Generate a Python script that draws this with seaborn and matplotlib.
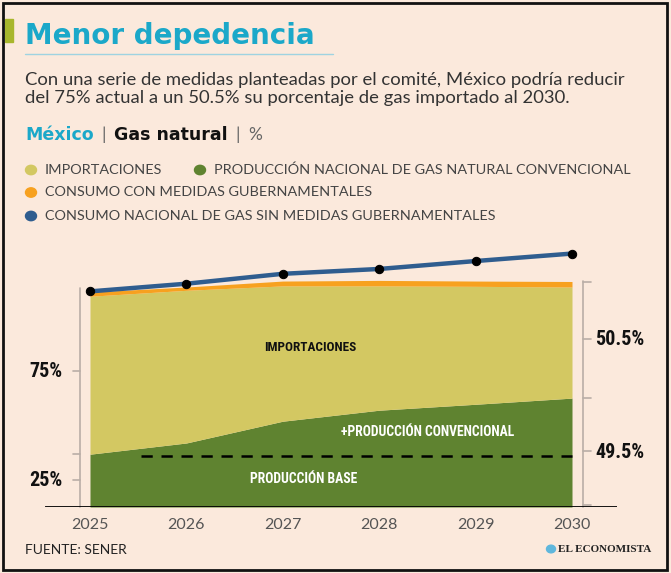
import seaborn as sns
import matplotlib.pyplot as plt
import pandas as pd
from matplotlib import font_manager
from matplotlib.patches import Rectangle, Circle
from matplotlib.lines import Line2D

# data (relative units, 2030 total demand with measures ~ 100)
years = [2025, 2026, 2027, 2028, 2029, 2030]
prod_convencional = [24.0, 29.1, 39.0, 44.0, 46.7, 49.5]
importaciones = [71.8, 69.4, 61.5, 56.5, 53.6, 50.5]
consumo_con_medidas = [97.7, 100.0, 102.7, 103.0, 102.7, 102.5]
consumo_sin_medidas = [98.0, 101.5, 106.0, 108.2, 111.8, 115.2]
prod_base = 23.0

left_ticks = [61.8, 24.1, 12.3]
left_labels = {'75%': 61.8, '25%': 12.0}
right_ticks = [102.4, 76.4, 49.7, 25.6, 1.0]
right_labels = {'50.5%': 76.2, '49.5%': 24.6}

legend_items = ['IMPORTACIONES', 'PRODUCCIÓN NACIONAL DE GAS NATURAL CONVENCIONAL',
                'CONSUMO CON MEDIDAS GUBERNAMENTALES',
                'CONSUMO NACIONAL DE GAS SIN MEDIDAS GUBERNAMENTALES']

BG = '#fbe9dc'
YELLOW = '#d3c862'
GREEN = '#5f8330'
ORANGE = '#f7a11f'
BLUE = '#2f5d8f'
CYAN = '#1ba8c9'

installed = {f.name for f in font_manager.fontManager.ttflist}
def pick(*names):
    for n in names:
        if n in installed:
            return n
    return 'DejaVu Sans'

NARROW = pick('Liberation Sans Narrow', 'Roboto Condensed', 'Open Sans Condensed', 'Liberation Sans')
BODY = pick('Lato', 'Open Sans', 'DejaVu Sans')
SERIF = pick('Liberation Serif', 'DejaVu Serif')

sns.set_style('white')
plt.rcParams['font.family'] = [BODY, 'DejaVu Sans']

W, H = 671, 573
fig = plt.figure(figsize=(W / 100, H / 100), dpi=100)
fig.patch.set_facecolor(BG)

def px(x, y):
    return x / W, 1 - y / H

# chart area
ax = fig.add_axes([45 / W, (H - 507) / H, 572 / W, 262 / H])
ax.set_facecolor(BG)
ax.set_xlim(2025 - 45 / 96.4, 2025 + 527 / 96.4)
ax.set_ylim(0, 262 / 2.2)

yellow_top = [g + i for g, i in zip(prod_convencional, importaciones)]
ax.stackplot(years, prod_convencional, importaciones, colors=[GREEN, YELLOW], linewidth=0)
ax.fill_between(years, yellow_top, consumo_con_medidas, color=ORANGE, linewidth=0)

df = pd.DataFrame({'year': years, 'consumo': consumo_sin_medidas})
sns.lineplot(data=df, x='year', y='consumo', ax=ax, color=BLUE, linewidth=3.2,
             marker='o', markersize=6, markerfacecolor='black', markeredgecolor='black')

ax.plot([2025.53, 2030], [prod_base, prod_base], color='black', linewidth=1.8,
        dashes=(4.5, 3.5))

# side rulers
GRAY = '#b9aea6'
ax.plot([2024.9, 2024.9], [0, 99.5], color=GRAY, lw=1.2, clip_on=False)
for t in left_ticks:
    ax.plot([2024.82, 2024.9], [t, t], color=GRAY, lw=1.2, clip_on=False)
ax.plot([2030.11, 2030.11], [0, 102.7], color=GRAY, lw=1.2, clip_on=False)
for t in right_ticks:
    ax.plot([2030.11, 2030.2], [t, t], color=GRAY, lw=1.2, clip_on=False)

for lab, y in left_labels.items():
    ax.text(2024.71, y, lab, ha='right', va='center', fontsize=14.5, fontweight='bold',
            family=NARROW, color='#111111')
for lab, y in right_labels.items():
    ax.text(2030.24, y, lab, ha='left', va='center', fontsize=14.5, fontweight='bold',
            family=NARROW, color='#111111')

ax.text(2027.28, 72.5, 'IMPORTACIONES', ha='center', va='center', fontsize=9.5,
        fontweight='bold', family=NARROW, color='#111111')
ax.text(2028.5, 34, '+PRODUCCIÓN CONVENCIONAL', ha='center', va='center', fontsize=9.8,
        fontweight='bold', family=NARROW, color='white')
ax.text(2027.22, 12.7, 'PRODUCCIÓN BASE', ha='center', va='center', fontsize=9.8,
        fontweight='bold', family=NARROW, color='white')

ax.axhline(0, color='black', lw=2, zorder=5)
ax.set_xticks(years)
ax.set_xticklabels([str(y) for y in years], fontsize=11.5, color='#555555')
ax.tick_params(axis='x', length=0, pad=8)
ax.set_yticks([])
ax.set_xlabel('')
ax.set_ylabel('')
for s in ax.spines.values():
    s.set_visible(False)

# header
fig.patches.append(Rectangle(px(5, 42), 8 / W, 23 / H, transform=fig.transFigure,
                             color='#a8b62c'))
fig.lines.append(Line2D([25 / W, 333 / W], [1 - 53.5 / H] * 2, transform=fig.transFigure,
                        color='#9fd3e1', lw=1))
fig.text(*px(25, 44), 'Menor depedencia', fontsize=20, fontweight='bold', color=CYAN,
         va='baseline', family='DejaVu Sans')
fig.text(*px(25, 85), 'Con una serie de medidas planteadas por el comité, México podría reducir',
         fontsize=13.3, color='#333333', va='baseline')
fig.text(*px(25, 103), 'del 75% actual a un 50.5% su porcentaje de gas importado al 2030.',
         fontsize=13.3, color='#333333', va='baseline')

# "México | Gas natural | %" placed piece by piece
renderer = fig.canvas.get_renderer()
parts = [('México', CYAN, 'bold'), ('|', '#666666', 'normal'),
         ('Gas natural', '#111111', 'bold'), ('|', '#666666', 'normal'),
         ('%', '#666666', 'normal')]
xcur = 25
for txt, col, wt in parts:
    tt = fig.text(*px(xcur, 140), txt, fontsize=12.5, fontweight=wt, color=col,
                  va='baseline', family='DejaVu Sans' if wt == 'bold' else BODY)
    bb = tt.get_window_extent(renderer)
    xcur += bb.width + 8

# legend
leg_pos = [(31, 170, YELLOW), (200, 170, GREEN), (31, 192.5, ORANGE), (31, 216, BLUE)]
for (cx, cy, c), lab in zip(leg_pos, legend_items):
    fig.patches.append(Circle(px(cx, cy), 5.5 / W, transform=fig.transFigure, color=c))
    fig.text(*px(cx + 14, cy), lab, fontsize=10.4, color='#444444', va='center')

# footer
fig.text(*px(25, 554), 'FUENTE: SENER', fontsize=10, color='#222222', va='baseline')
fig.patches.append(Circle(px(551, 549), 4.5 / W, transform=fig.transFigure, color='#5fb7dc'))
fig.text(*px(558, 549), 'EL ECONOMISTA', fontsize=8, fontweight='bold', family=SERIF,
         color='#222222', va='center')

# frame
fig.patches.append(Rectangle((3 / W, 3 / H), 664 / W, 567 / H, transform=fig.transFigure,
                             fill=False, edgecolor='#111111', lw=2))

fig.savefig('out.png', dpi=100, facecolor=BG)
